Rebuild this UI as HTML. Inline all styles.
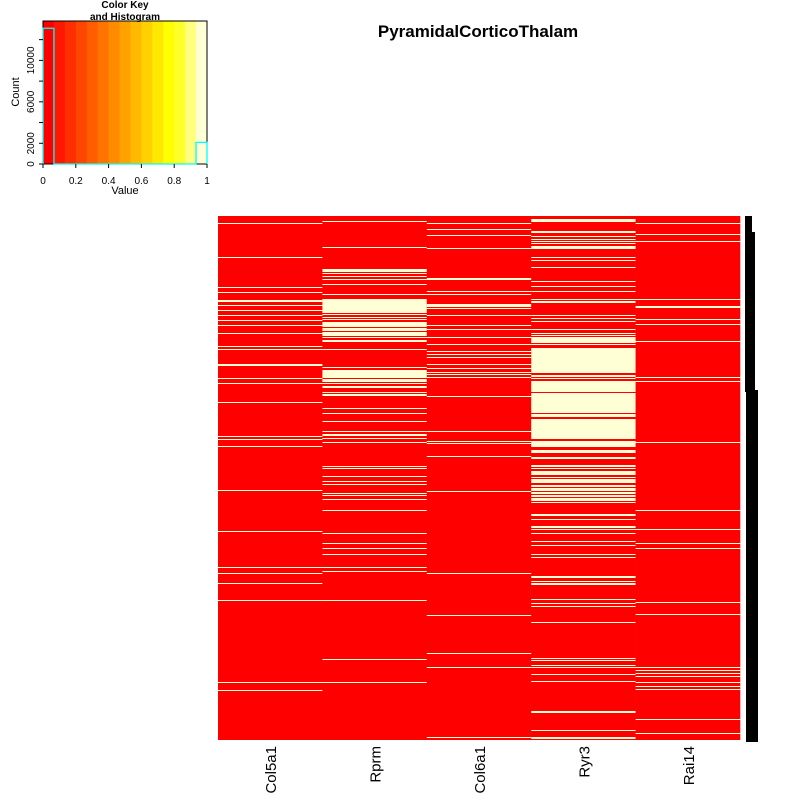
<!DOCTYPE html>
<html><head><meta charset="utf-8"><style>
body{margin:0;background:#fff}
svg{display:block;font-family:"Liberation Sans",sans-serif}
</style></head><body>
<svg id="c" width="800" height="800" viewBox="0 0 800 800">
<text x="478" y="37" font-size="17" font-weight="bold" text-anchor="middle">PyramidalCorticoThalam</text>
<g id="key"></g>
<g id="hm"></g>
<g>
<rect x="745" y="216" width="7" height="176" fill="#000"/>
<rect x="750" y="232" width="5" height="160" fill="#000"/>
<rect x="746" y="390" width="12" height="352" fill="#000"/>
</g>
<g id="labels"></g>
<text x="125" y="194" font-size="11" text-anchor="middle">Value</text>
<text x="0" y="0" transform="translate(19,92) rotate(-90)" font-size="11" text-anchor="middle">Count</text>
<text x="125" y="8" font-size="10" font-weight="bold" text-anchor="middle">Color Key</text>
<text x="125" y="20" font-size="10" font-weight="bold" text-anchor="middle">and Histogram</text>
</svg>
<script>
const genes=["Col5a1","Rprm","Col6a1","Ryr3","Rai14"];
const nRows=524;
// white (value=1) row runs per gene: [startRow,length]
const col5a1Ones=[[7,1],[41,1],[71,1],[76,1],[84,2],[89,1],[94,1],[99,1],[104,1],[109,1],[117,1],[130,1],[133,1],[148,2],[162,1],[167,1],[186,1],[220,1],[223,1],[230,1],[274,1],[315,1],[351,1],[357,1],[367,1],[384,1],[466,1],[474,1]];
const rprmOnes=[[5,1],[31,1],[53,3],[57,1],[60,1],[63,1],[68,1],[78,1],[83,14],[98,1],[101,1],[103,1],[106,5],[112,3],[116,4],[121,1],[124,2],[133,1],[151,1],[154,8],[163,3],[167,1],[170,2],[176,1],[178,2],[192,1],[197,1],[205,1],[215,1],[218,2],[222,1],[226,1],[250,1],[252,1],[260,1],[265,1],[268,1],[277,1],[279,1],[283,1],[294,1],[317,1],[327,1],[332,1],[338,1],[351,1],[355,1],[384,1],[443,1],[466,1]];
const col6a1Ones=[[7,1],[13,1],[19,1],[32,1],[62,2],[75,1],[78,1],[88,3],[92,1],[99,1],[109,1],[113,1],[121,1],[128,1],[135,1],[138,1],[141,1],[148,1],[152,1],[156,1],[158,1],[161,1],[180,1],[215,1],[225,1],[227,1],[240,1],[275,1],[357,1],[399,1],[437,1],[451,1],[521,1]];
const ryr3Ones=[[3,3],[15,2],[20,1],[23,1],[25,1],[27,1],[30,3],[41,1],[44,1],[51,1],[65,1],[70,1],[75,1],[83,1],[85,2],[99,1],[102,1],[105,1],[113,1],[117,1],[119,1],[121,6],[128,1],[132,25],[159,2],[162,1],[165,1],[166,10],[177,20],[198,3],[203,20],[225,6],[234,3],[241,2],[249,2],[252,1],[255,4],[261,1],[263,4],[269,2],[272,3],[276,2],[279,2],[282,3],[286,1],[298,2],[303,1],[310,2],[313,1],[317,1],[325,1],[329,1],[338,1],[341,1],[360,2],[365,1],[367,2],[383,1],[387,1],[390,1],[406,1],[442,1],[444,1],[449,1],[451,1],[458,1],[465,1],[495,2],[514,1],[521,2]];
const rai14Ones=[[7,1],[18,1],[25,1],[83,1],[90,2],[103,1],[108,1],[125,1],[161,1],[165,1],[226,1],[294,1],[313,1],[327,1],[332,1],[386,1],[398,1],[451,1],[454,1],[457,1],[460,1],[466,1],[470,1],[473,1],[503,1],[517,1]];
const onesByGene=[col5a1Ones,rprmOnes,col6a1Ones,ryr3Ones,rai14Ones];
// color key histogram
const histCounts=[13100,0,0,0,0,0,0,0,0,0,0,0,0,0,2090];
const xTicks=[0,0.2,0.4,0.6,0.8,1];
const yTicks=[0,2000,4000,6000,8000,10000,12000];
const yTickLabels=["0","2000","","6000","","10000",""];

const NS="http://www.w3.org/2000/svg";
function mk(t,a,p){const e=document.createElementNS(NS,t);for(const k in a)e.setAttribute(k,a[k]);p.appendChild(e);return e;}
const hm=document.getElementById('hm');
const L=218,R=740,T=216,B=740;
const cw=(R-L)/genes.length, rh=(B-T)/nRows;
const colX=i=>L+i*cw, rowY=r=>T+r*rh;
const red="#FF0000", cream="#FFFFD5";
genes.forEach((g,i)=>{
  const bg=mk('rect',{x:colX(i),y:T,width:cw+0.3,height:B-T,fill:red},hm);
  
  
  onesByGene[i].forEach(([s,n])=>{
    const r=mk('rect',{x:colX(i),y:rowY(s),width:cw+0.3,height:n*rh,fill:cream},hm);
    
    
  });
  const lab=document.getElementById('labels');
  const cx=colX(i)+cw/2+6;
  const t=mk('text',{x:0,y:0,transform:`translate(${cx},746) rotate(-90)`,'font-size':15,'text-anchor':'end'},lab);
  t.textContent=g;
  
  
});
// color key
const key=document.getElementById('key');
const kL=43,kR=207,kT=21,kB=164;
const kx=v=>kL+v*(kR-kL), ky=c=>kB-c*(kB-kT)/13800;
const n=15;
function heat(i){
  const j=Math.floor(n/4), k=n-j;
  if(i<k) return `hsl(${(i/(k-1))*60},100%,50%)`;
  const s=[1-1/(2*j),0.5,1/(2*j)][i-k];
  return `hsl(60,100%,${(100-s*50).toFixed(1)}%)`;
}
for(let i=0;i<n;i++){
  const r=mk('rect',{x:kx(i/n),y:kT,width:(kR-kL)/n+0.5,height:kB-kT,fill:heat(i)},key);
  
  
}
mk('rect',{x:kL,y:kT,width:kR-kL,height:kB-kT,fill:'none',stroke:'#000','stroke-width':1},key);
let d=`M${kx(0)},${ky(0)}`;
histCounts.forEach((c,i)=>{d+=` L${kx(i/n)},${ky(c)} L${kx((i+1)/n)},${ky(c)}`;});
d+=` L${kx(1)},${ky(0)}`;
const hp=mk('path',{d:d,fill:'none',stroke:'#00FFFF','stroke-width':1.3},key);


xTicks.forEach(v=>{
  mk('line',{x1:kx(v),x2:kx(v),y1:kB,y2:kB+4,stroke:'#000'},key);
  const t=mk('text',{x:kx(v),y:kB+20,'font-size':10,'text-anchor':'middle'},key);
  t.textContent=String(v);
  
  
});
yTicks.forEach((v,i)=>{
  mk('line',{x1:kL-4,x2:kL,y1:ky(v),y2:ky(v),stroke:'#000'},key);
  if(yTickLabels[i]){
    const t=mk('text',{x:0,y:0,transform:`translate(${kL-9},${ky(v)}) rotate(-90)`,'font-size':10,'text-anchor':'middle'},key);
    t.textContent=yTickLabels[i];
    
    
  }
});
</script>
</body></html>
